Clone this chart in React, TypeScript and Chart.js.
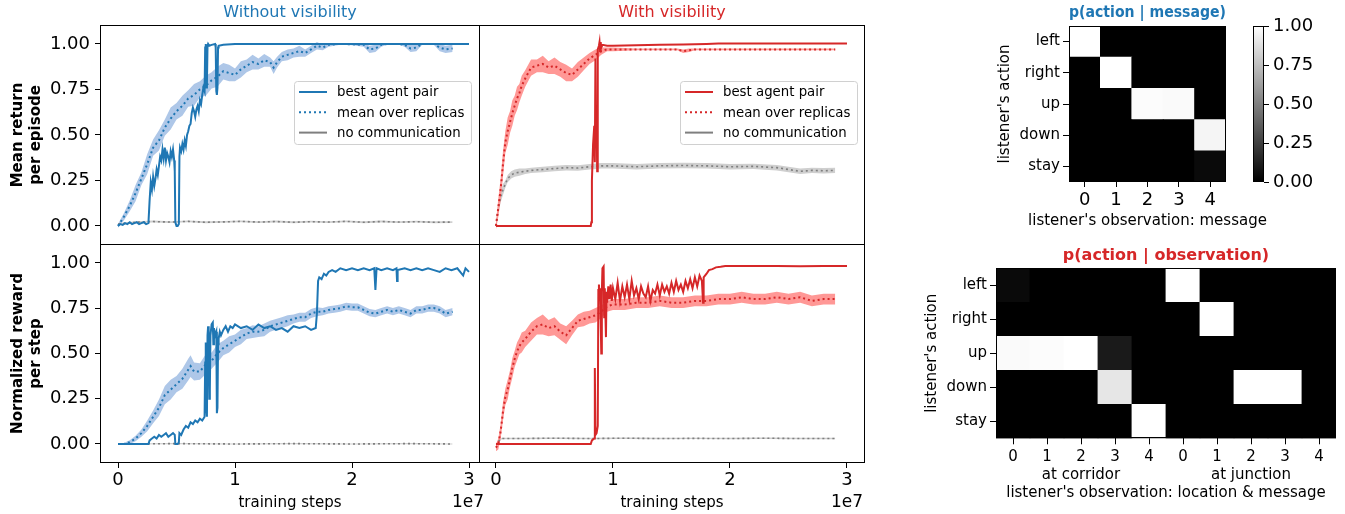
import React, { useEffect, useRef } from "react";
import { Chart, registerables } from "chart.js";

Chart.register(...registerables);
Chart.defaults.font.family = "'DejaVu Sans', sans-serif";
Chart.defaults.color = "#000";

// ---------------- text ----------------
const legendLabels = ["best agent pair", "mean over replicas", "no communication"];
const panelTitles = ["Without visibility", "With visibility"];
const yTitlesLine = [["Mean return", "per episode"], ["Normalized reward", "per step"]];
const xTitleLine = "training steps";
const xTickValues = [0, 1, 2, 3];
const yTickValues = [0, 0.25, 0.5, 0.75, 1.0];
const offsetText = "1e7";

// ---------------- line data (x in units of 1e7 steps) ----------------
// best agent pair: [step, value]
const tlBest = [
  [0, 0], [0.02, 0.01], [0.04, 0.005], [0.06, 0.015], [0.08, 0.01], [0.1, 0.02], [0.12, 0.01], [0.14, 0.015],
  [0.16, 0.02], [0.18, 0.01], [0.2, 0.015], [0.22, 0.02], [0.24, 0.01], [0.26, 0.015],
  [0.27, 0.14], [0.28, 0.24], [0.29, 0.2], [0.3, 0.27], [0.31, 0.22], [0.32, 0.26], [0.33, 0.31], [0.34, 0.28],
  [0.35, 0.33], [0.36, 0.38], [0.37, 0.36], [0.38, 0.42], [0.39, 0.37], [0.4, 0.43], [0.41, 0.36], [0.42, 0.4],
  [0.43, 0.38], [0.44, 0.35], [0.45, 0.41], [0.46, 0.38], [0.47, 0.42], [0.48, 0.36],
  [0.485, 0.3], [0.49, 0.02], [0.5, 0.0], [0.51, 0.0], [0.52, 0.01], [0.525, 0.38],
  [0.53, 0.43], [0.54, 0.41], [0.55, 0.45], [0.56, 0.42], [0.57, 0.47], [0.58, 0.44], [0.59, 0.5], [0.6, 0.52],
  [0.61, 0.55], [0.62, 0.56], [0.63, 0.62], [0.64, 0.65], [0.65, 0.63], [0.66, 0.6], [0.67, 0.64], [0.68, 0.66],
  [0.69, 0.63], [0.7, 0.69], [0.71, 0.67], [0.72, 0.72], [0.73, 0.76], [0.74, 0.74],
  [0.745, 0.98], [0.75, 1.0], [0.755, 0.76], [0.76, 0.78], [0.765, 0.99], [0.77, 1.0], [0.78, 0.99], [0.8, 0.995],
  [0.83, 1.0], [0.835, 0.98], [0.84, 0.74], [0.845, 0.72], [0.85, 0.76], [0.855, 0.98], [0.86, 0.99], [0.9, 0.995],
  [1.0, 1.0], [1.2, 1.0], [1.4, 0.999], [1.6, 1.0], [1.8, 1.0], [2.0, 1.0], [2.2, 0.999], [2.4, 1.0], [2.6, 1.0],
  [2.8, 1.0], [3.0, 1.0],
];
// mean over replicas: [step, mean, half-width of band]
const tlMean = [
  [0, 0, 0.01], [0.05, 0.05, 0.02], [0.1, 0.11, 0.03], [0.15, 0.18, 0.045], [0.2, 0.26, 0.035], [0.25, 0.34, 0.055],
  [0.3, 0.43, 0.045], [0.35, 0.47, 0.055], [0.4, 0.54, 0.045], [0.45, 0.59, 0.06], [0.5, 0.63, 0.045], [0.55, 0.66, 0.055],
  [0.6, 0.7, 0.045], [0.65, 0.72, 0.06], [0.7, 0.75, 0.045], [0.75, 0.77, 0.055], [0.8, 0.8, 0.045], [0.85, 0.82, 0.055],
  [0.9, 0.85, 0.045], [0.95, 0.84, 0.045], [1.0, 0.83, 0.035], [1.05, 0.86, 0.045], [1.1, 0.88, 0.035], [1.15, 0.9, 0.04],
  [1.2, 0.89, 0.03], [1.25, 0.91, 0.035], [1.3, 0.9, 0.025], [1.33, 0.87, 0.035], [1.36, 0.9, 0.03], [1.4, 0.93, 0.025],
  [1.45, 0.94, 0.03], [1.5, 0.95, 0.025], [1.55, 0.96, 0.03], [1.6, 0.95, 0.02], [1.65, 0.97, 0.02], [1.7, 0.99, 0.02],
  [1.75, 0.98, 0.015], [1.8, 0.995, 0.01], [1.9, 1.0, 0.005], [2.0, 0.998, 0.005], [2.1, 0.995, 0.01],
  [2.15, 0.97, 0.02], [2.2, 0.975, 0.02], [2.25, 0.995, 0.01], [2.3, 1.0, 0.005], [2.4, 1.0, 0.005],
  [2.45, 0.995, 0.01], [2.5, 0.975, 0.02], [2.55, 0.98, 0.02], [2.6, 1.0, 0.005], [2.7, 1.0, 0.005],
  [2.75, 0.98, 0.02], [2.8, 0.97, 0.02], [2.86, 0.975, 0.02],
];
const tlNoComm = [
  [0, 0.01, 0.005], [0.15, 0.02, 0.005], [0.3, 0.024, 0.005], [0.45, 0.021, 0.005], [0.6, 0.025, 0.005],
  [0.75, 0.02, 0.005], [0.9, 0.022, 0.005], [1.05, 0.025, 0.005], [1.2, 0.021, 0.005], [1.35, 0.024, 0.005],
  [1.5, 0.02, 0.005], [1.65, 0.023, 0.005], [1.8, 0.021, 0.005], [1.95, 0.025, 0.005], [2.1, 0.02, 0.005],
  [2.25, 0.024, 0.005], [2.4, 0.021, 0.005], [2.55, 0.023, 0.005], [2.7, 0.02, 0.005], [2.86, 0.021, 0.005],
];

const trBest = [
  [0, 0], [0.2, 0], [0.4, 0], [0.6, 0], [0.81, 0], [0.815, 0.02], [0.82, 0.25], [0.83, 0.45], [0.84, 0.55],
  [0.845, 0.35], [0.85, 0.92], [0.855, 0.45], [0.86, 0.6], [0.865, 0.3], [0.87, 0.97], [0.88, 0.99], [0.885, 1.01],
  [0.89, 0.96], [0.895, 1.01], [0.9, 0.98], [0.91, 0.995], [0.95, 0.99], [1.0, 0.99], [1.2, 0.993], [1.4, 0.995],
  [1.6, 0.997], [1.7, 0.998], [1.8, 1.0], [1.9, 1.003], [2.2, 1.003], [2.6, 1.003], [3.0, 1.003],
];
const trMean = [
  [0, 0, 0.02], [0.02, 0.1, 0.05], [0.04, 0.2, 0.06], [0.06, 0.34, 0.07], [0.08, 0.46, 0.06], [0.1, 0.52, 0.075],
  [0.12, 0.57, 0.06], [0.14, 0.62, 0.07], [0.16, 0.66, 0.055], [0.18, 0.7, 0.065], [0.2, 0.73, 0.05],
  [0.22, 0.77, 0.055], [0.25, 0.81, 0.045], [0.3, 0.87, 0.045], [0.35, 0.88, 0.035], [0.4, 0.89, 0.045],
  [0.45, 0.87, 0.035], [0.5, 0.88, 0.045], [0.55, 0.86, 0.04], [0.6, 0.84, 0.045], [0.65, 0.83, 0.035],
  [0.7, 0.86, 0.04], [0.75, 0.89, 0.035], [0.8, 0.92, 0.03], [0.85, 0.94, 0.03], [0.9, 0.96, 0.02],
  [0.95, 0.97, 0.01], [1.0, 0.97, 0.01], [1.2, 0.97, 0.005], [1.4, 0.97, 0.005], [1.55, 0.97, 0.005],
  [1.6, 0.96, 0.01], [1.65, 0.965, 0.01], [1.7, 0.97, 0.005], [2.0, 0.97, 0.005], [2.5, 0.97, 0.005],
  [2.9, 0.97, 0.005],
];
const trNoComm = [
  [0, 0, 0.01], [0.02, 0.1, 0.03], [0.04, 0.16, 0.03], [0.06, 0.2, 0.03], [0.08, 0.23, 0.02], [0.1, 0.26, 0.02],
  [0.13, 0.28, 0.02], [0.16, 0.29, 0.02], [0.2, 0.295, 0.02], [0.25, 0.3, 0.015], [0.3, 0.305, 0.015],
  [0.4, 0.31, 0.015], [0.5, 0.315, 0.015], [0.6, 0.32, 0.015], [0.7, 0.318, 0.015], [0.8, 0.325, 0.015],
  [0.9, 0.33, 0.015], [1.0, 0.33, 0.015], [1.2, 0.325, 0.015], [1.4, 0.33, 0.015], [1.6, 0.332, 0.015],
  [1.8, 0.33, 0.015], [2.0, 0.325, 0.015], [2.2, 0.327, 0.015], [2.4, 0.32, 0.015], [2.5, 0.31, 0.015],
  [2.6, 0.3, 0.015], [2.7, 0.305, 0.015], [2.8, 0.303, 0.015], [2.9, 0.305, 0.015],
];

const blBest = [
  [0, 0], [0.1, 0], [0.2, 0], [0.26, 0.0], [0.27, 0.02], [0.29, 0.03], [0.31, 0.04], [0.33, 0.03], [0.35, 0.05],
  [0.37, 0.04], [0.39, 0.05], [0.41, 0.06], [0.43, 0.04], [0.45, 0.05], [0.47, 0.06], [0.485, 0.05], [0.49, 0.0],
  [0.51, 0.0], [0.52, 0.01], [0.525, 0.06], [0.54, 0.05], [0.56, 0.08], [0.58, 0.1], [0.6, 0.09], [0.62, 0.12],
  [0.64, 0.11], [0.66, 0.13], [0.68, 0.12], [0.7, 0.14], [0.72, 0.13], [0.74, 0.15], [0.745, 0.45], [0.75, 0.56],
  [0.755, 0.2], [0.76, 0.15], [0.765, 0.6], [0.77, 0.65], [0.775, 0.62], [0.78, 0.25], [0.785, 0.3], [0.79, 0.6],
  [0.8, 0.66], [0.81, 0.67], [0.815, 0.55], [0.82, 0.64], [0.83, 0.6], [0.84, 0.62], [0.845, 0.17], [0.85, 0.2],
  [0.855, 0.55], [0.86, 0.58], [0.87, 0.62], [0.88, 0.6], [0.9, 0.63], [0.92, 0.65], [0.94, 0.62], [0.96, 0.65],
  [0.98, 0.64], [1.0, 0.66], [1.05, 0.64], [1.1, 0.65], [1.15, 0.63], [1.2, 0.66], [1.25, 0.64], [1.3, 0.65],
  [1.35, 0.63], [1.4, 0.64], [1.45, 0.62], [1.5, 0.65], [1.55, 0.64], [1.6, 0.65], [1.65, 0.63], [1.69, 0.64],
  [1.7, 0.72], [1.71, 0.9], [1.72, 0.92], [1.74, 0.91], [1.76, 0.94], [1.78, 0.93], [1.8, 0.95], [1.83, 0.96],
  [1.86, 0.95], [1.9, 0.97], [1.95, 0.96], [2.0, 0.97], [2.05, 0.96], [2.1, 0.97], [2.15, 0.96], [2.19, 0.97],
  [2.2, 0.85], [2.21, 0.97], [2.25, 0.96], [2.3, 0.97], [2.35, 0.96], [2.38, 0.97], [2.385, 0.9], [2.39, 0.96],
  [2.45, 0.97], [2.5, 0.96], [2.55, 0.97], [2.6, 0.96], [2.65, 0.97], [2.7, 0.96], [2.75, 0.95], [2.8, 0.97],
  [2.85, 0.96], [2.9, 0.97], [2.95, 0.93], [2.97, 0.97], [3.0, 0.95],
];
const blMean = [
  [0, 0, 0.005], [0.05, 0, 0.005], [0.1, 0.01, 0.01], [0.15, 0.03, 0.015], [0.2, 0.06, 0.02], [0.25, 0.1, 0.03],
  [0.3, 0.15, 0.035], [0.35, 0.2, 0.045], [0.4, 0.27, 0.05], [0.45, 0.3, 0.055], [0.5, 0.33, 0.045], [0.55, 0.36, 0.055],
  [0.6, 0.41, 0.06], [0.62, 0.43, 0.06], [0.65, 0.4, 0.05], [0.7, 0.4, 0.045], [0.75, 0.44, 0.055], [0.8, 0.46, 0.045],
  [0.85, 0.5, 0.05], [0.9, 0.53, 0.04], [0.95, 0.55, 0.045], [1.0, 0.57, 0.035], [1.05, 0.59, 0.04], [1.1, 0.61, 0.03],
  [1.15, 0.62, 0.035], [1.2, 0.62, 0.03], [1.25, 0.63, 0.035], [1.3, 0.65, 0.03], [1.35, 0.66, 0.03], [1.4, 0.67, 0.03],
  [1.45, 0.68, 0.03], [1.5, 0.69, 0.025], [1.55, 0.7, 0.025], [1.6, 0.7, 0.025], [1.65, 0.72, 0.025],
  [1.7, 0.73, 0.025], [1.75, 0.73, 0.02], [1.8, 0.74, 0.02], [1.85, 0.745, 0.02], [1.9, 0.75, 0.02],
  [1.95, 0.76, 0.02], [2.0, 0.755, 0.02], [2.05, 0.755, 0.02], [2.1, 0.74, 0.02], [2.15, 0.725, 0.02],
  [2.2, 0.72, 0.02], [2.25, 0.73, 0.02], [2.3, 0.74, 0.02], [2.35, 0.73, 0.02], [2.4, 0.74, 0.02],
  [2.45, 0.73, 0.02], [2.5, 0.72, 0.02], [2.55, 0.74, 0.02], [2.6, 0.74, 0.02], [2.65, 0.75, 0.02],
  [2.7, 0.75, 0.02], [2.75, 0.74, 0.02], [2.8, 0.72, 0.02], [2.86, 0.73, 0.02],
];
const blNoComm = [
  [0, 0, 0.003], [0.5, 0.002, 0.003], [1.0, 0, 0.003], [1.5, 0.002, 0.003], [2.0, 0, 0.003], [2.5, 0.002, 0.003],
  [2.86, 0, 0.003],
];

const brBest = [
  [0, 0], [0.3, 0], [0.6, 0], [0.81, 0], [0.82, 0.02], [0.84, 0.03], [0.845, 0.42], [0.85, 0.05], [0.86, 0.06],
  [0.87, 0.1], [0.875, 0.85], [0.88, 0.88], [0.885, 0.82], [0.89, 0.86], [0.9, 0.5], [0.905, 0.84], [0.91, 0.97],
  [0.92, 0.98], [0.925, 0.7], [0.93, 0.86], [0.94, 0.59], [0.945, 0.84], [0.95, 0.78], [0.96, 0.87], [0.97, 0.8],
  [0.98, 0.88], [0.99, 0.79], [1.0, 0.86], [1.02, 0.8], [1.04, 0.89], [1.06, 0.79], [1.08, 0.87], [1.1, 0.81],
  [1.12, 0.88], [1.14, 0.8], [1.16, 0.9], [1.18, 0.82], [1.2, 0.86], [1.22, 0.8], [1.24, 0.87], [1.26, 0.83],
  [1.28, 0.81], [1.3, 0.87], [1.32, 0.79], [1.34, 0.85], [1.36, 0.83], [1.38, 0.88], [1.4, 0.82], [1.42, 0.88],
  [1.44, 0.84], [1.46, 0.87], [1.48, 0.83], [1.5, 0.89], [1.52, 0.84], [1.54, 0.9], [1.56, 0.85], [1.58, 0.88],
  [1.6, 0.84], [1.62, 0.9], [1.64, 0.86], [1.66, 0.91], [1.68, 0.86], [1.7, 0.92], [1.72, 0.87], [1.74, 0.93],
  [1.76, 0.9], [1.77, 0.78], [1.775, 0.92], [1.8, 0.94], [1.82, 0.96], [1.85, 0.965], [1.88, 0.975], [1.92, 0.978],
  [1.96, 0.982], [2.0, 0.983], [2.2, 0.982], [2.4, 0.983], [2.6, 0.981], [2.8, 0.983], [3.0, 0.982],
];
const brMean = [
  [0, -0.02, 0.02], [0.02, 0.0, 0.03], [0.04, 0.07, 0.04], [0.06, 0.18, 0.05], [0.08, 0.26, 0.045], [0.1, 0.3, 0.055],
  [0.12, 0.36, 0.045], [0.14, 0.42, 0.055], [0.16, 0.47, 0.045], [0.18, 0.51, 0.05], [0.2, 0.54, 0.045],
  [0.22, 0.56, 0.055], [0.25, 0.58, 0.045], [0.3, 0.62, 0.05], [0.35, 0.65, 0.045], [0.4, 0.66, 0.055],
  [0.45, 0.64, 0.045], [0.5, 0.65, 0.05], [0.55, 0.62, 0.045], [0.6, 0.6, 0.05], [0.65, 0.64, 0.04],
  [0.7, 0.68, 0.035], [0.75, 0.69, 0.04], [0.8, 0.7, 0.035], [0.85, 0.71, 0.04], [0.9, 0.73, 0.035],
  [0.95, 0.76, 0.03], [1.0, 0.77, 0.03], [1.1, 0.77, 0.03], [1.2, 0.78, 0.03], [1.3, 0.78, 0.03], [1.4, 0.79, 0.03],
  [1.5, 0.78, 0.03], [1.6, 0.78, 0.03], [1.7, 0.79, 0.03], [1.8, 0.79, 0.03], [1.9, 0.8, 0.03], [2.0, 0.8, 0.03],
  [2.1, 0.81, 0.03], [2.2, 0.8, 0.03], [2.3, 0.8, 0.03], [2.4, 0.81, 0.03], [2.5, 0.8, 0.03], [2.6, 0.81, 0.03],
  [2.7, 0.79, 0.03], [2.8, 0.8, 0.03], [2.9, 0.8, 0.03],
];
const brNoComm = [
  [0.02, 0.015, 0.005], [0.05, 0.03, 0.004], [0.2, 0.03, 0.004], [0.5, 0.032, 0.004], [0.8, 0.03, 0.004],
  [1.1, 0.032, 0.004], [1.4, 0.03, 0.004], [1.7, 0.031, 0.004], [2.0, 0.03, 0.004], [2.3, 0.032, 0.004],
  [2.6, 0.03, 0.004], [2.9, 0.03, 0.004],
];

// ---------------- heatmap data ----------------
const hmRows = ["left", "right", "up", "down", "stay"];
const hm1Cols = ["0", "1", "2", "3", "4"];
const hm1Values = [
  [1.0, 0, 0, 0, 0],
  [0, 1.0, 0, 0, 0],
  [0, 0, 0.99, 0.98, 0],
  [0, 0, 0, 0, 0.96],
  [0, 0, 0, 0, 0.04],
];
const hm2Messages = ["0", "1", "2", "3", "4"];
const hm2Locations = ["at corridor", "at junction"];
const hm2Values = [
  [0.04, 0, 0, 0, 0, 1.0, 0, 0, 0, 0],
  [0, 0, 0, 0, 0, 0, 1.0, 0, 0, 0],
  [0.98, 0.99, 1.0, 0.1, 0, 0, 0, 0, 0, 0],
  [0, 0, 0, 0.9, 0, 0, 0, 1.0, 1.0, 0],
  [0, 0, 0, 0, 1.0, 0, 0, 0, 0, 0],
];
const hmTitles = ["p(action | message)", "p(action | observation)"];
const hmYTitle = "listener's action";
const hmXTitles = ["listener's observation: message", "listener's observation: location & message"];
const colorbarTicks = [0, 0.25, 0.5, 0.75, 1.0];

// ---------------- helpers ----------------
const BLUE = "#1f77b4";
const BLUE_BAND = "#aec7e8";
const RED = "#d62728";
const RED_BAND = "#ff9896";
const GRAY = "#7f7f7f";
const GRAY_BAND = "#cfcfcf";
const Y_MIN = -0.105;
const Y_MAX = 1.104;

const noPad = (s: any) => {
  s.paddingTop = 0;
  s.paddingBottom = 0;
  s.paddingLeft = 0;
  s.paddingRight = 0;
};

const framePlugin = {
  id: "frame",
  afterDatasetsDraw(chart: any) {
    const { ctx, chartArea: a } = chart;
    ctx.save();
    ctx.strokeStyle = "#000";
    ctx.lineWidth = 1;
    ctx.setLineDash([]);
    const l = Math.round(a.left) + 0.5;
    const t = Math.round(a.top) + 0.5;
    const r = Math.round(a.right) - 0.5;
    const b = Math.round(a.bottom) - 0.5;
    ctx.strokeRect(l, t, r - l, b - t);
    ctx.restore();
  },
};

function legendPlugin(x: number, y: number, color: string) {
  return {
    id: "boxLegend",
    afterDraw(chart: any) {
      const ctx = chart.ctx;
      ctx.save();
      const w = 177, h = 63;
      ctx.fillStyle = "rgba(255,255,255,0.85)";
      ctx.strokeStyle = "#d0d0d0";
      ctx.lineWidth = 1;
      ctx.beginPath();
      if (ctx.roundRect) ctx.roundRect(x + 0.5, y + 0.5, w, h, 3);
      else ctx.rect(x + 0.5, y + 0.5, w, h);
      ctx.fill();
      ctx.stroke();
      const items = [
        { c: color, dash: [] as number[] },
        { c: color, dash: [2, 3] },
        { c: GRAY, dash: [] as number[] },
      ];
      ctx.font = "13.3px 'DejaVu Sans'";
      ctx.textBaseline = "middle";
      ctx.textAlign = "left";
      items.forEach((it, i) => {
        const yy = y + 11 + i * 20.3;
        ctx.beginPath();
        ctx.setLineDash(it.dash);
        ctx.strokeStyle = it.c;
        ctx.lineWidth = 2;
        ctx.moveTo(x + 5, yy);
        ctx.lineTo(x + 33, yy);
        ctx.stroke();
        ctx.setLineDash([]);
        ctx.fillStyle = "#000";
        ctx.fillText(legendLabels[i], x + 43, yy + 1);
      });
      ctx.restore();
    },
  };
}

function textPlugin(text: string, x: number | null, y: number, font: string, align: CanvasTextAlign) {
  return {
    id: "freeText",
    afterDraw(chart: any) {
      const ctx = chart.ctx;
      const a = chart.chartArea;
      ctx.save();
      ctx.font = font;
      ctx.fillStyle = "#000";
      ctx.textAlign = align;
      ctx.textBaseline = "middle";
      ctx.fillText(text, x === null ? (a.left + a.right) / 2 : x, y);
      ctx.restore();
    },
  };
}

const toPts = (arr: number[][]) => arr.map((r) => ({ x: r[0], y: r[1] }));
const toBand = (arr: number[][], sgn: number) => arr.map((r) => ({ x: r[0], y: r[1] + sgn * r[2] }));

type LineSpec = {
  best: number[][];
  mean: number[][];
  noComm: number[][];
  color: string;
  band: string;
  xMin: number;
  xMax: number;
  title?: string;
  yTitle?: string[];
  bottom: boolean;
  padRight: number;
  legendAt?: [number, number];
  offsetAt?: [number, number];
};

function makeLineChart(canvas: HTMLCanvasElement, p: LineSpec) {
  const thin = { pointRadius: 0, tension: 0 };
  const datasets: any[] = [
    { data: toPts(p.best), borderColor: p.color, borderWidth: 2, ...thin },
    { data: toBand(p.mean, 0), borderColor: p.color, borderWidth: 2, borderDash: [2, 3], ...thin },
    { data: toBand(p.noComm, 0), borderColor: GRAY, borderWidth: 1.6, borderDash: [2, 3], ...thin },
    { data: toBand(p.mean, -1), borderColor: "transparent", borderWidth: 1, fill: false, ...thin },
    { data: toBand(p.mean, 1), borderColor: "transparent", borderWidth: 1, fill: 3, backgroundColor: p.band, ...thin },
    { data: toBand(p.noComm, -1), borderColor: "transparent", borderWidth: 1, fill: false, ...thin },
    { data: toBand(p.noComm, 1), borderColor: "transparent", borderWidth: 1, fill: 5, backgroundColor: GRAY_BAND, ...thin },
  ];
  const y: any = p.yTitle
    ? {
        type: "linear",
        min: Y_MIN,
        max: Y_MAX,
        position: "left",
        afterFit: (s: any) => { s.width = 100; noPad(s); },
        afterBuildTicks: (s: any) => { s.ticks = yTickValues.map((v) => ({ value: v })); },
        ticks: { callback: (v: any) => Number(v).toFixed(2), font: { size: 18 }, padding: 5, color: "#000" },
        grid: { drawOnChartArea: false, tickLength: 5, color: "#000" },
        border: { display: false },
        title: { display: true, text: p.yTitle, color: "#000", font: { size: 15, weight: "bold" }, padding: { top: 9, bottom: 0 } },
      }
    : { type: "linear", min: Y_MIN, max: Y_MAX, display: false };
  const x: any = p.bottom
    ? {
        type: "linear",
        min: p.xMin,
        max: p.xMax,
        afterFit: (s: any) => { s.height = 51; noPad(s); },
        afterBuildTicks: (s: any) => { s.ticks = xTickValues.map((v) => ({ value: v })); },
        ticks: { callback: (v: any) => String(v), font: { size: 18 }, padding: 2, color: "#000", maxRotation: 0 },
        grid: { drawOnChartArea: false, tickLength: 5, color: "#000" },
        border: { display: false },
        title: { display: true, text: xTitleLine, color: "#000", font: { size: 15 }, padding: { top: 0, bottom: 2 } },
      }
    : { type: "linear", min: p.xMin, max: p.xMax, display: false };

  const plugins: any[] = [framePlugin];
  if (p.legendAt) plugins.push(legendPlugin(p.legendAt[0], p.legendAt[1], p.color));
  if (p.offsetAt) plugins.push(textPlugin(offsetText, p.offsetAt[0], p.offsetAt[1], "17px 'DejaVu Sans'", "right"));

  return new Chart(canvas, {
    type: "line",
    data: { datasets },
    options: {
      animation: false,
      responsive: false,
      maintainAspectRatio: false,
      layout: { padding: { left: 0, right: p.padRight, top: 0, bottom: 0 } },
      plugins: {
        legend: { display: false },
        tooltip: { enabled: false },
        title: p.title
          ? {
              display: true,
              text: p.title,
              color: p.color,
              fullSize: false,
              font: { size: 16, weight: "normal" },
              padding: { top: 3, bottom: 2.8 },
            }
          : { display: false },
      },
      scales: { x, y },
    } as any,
    plugins,
  });
}

const gray = (v: number) => {
  const c = Math.round(v * 255);
  return `rgb(${c},${c},${c})`;
};

type HeatSpec = {
  labels: any[];
  values: number[][];
  title: string;
  titleColor: string;
  titlePad: { top: number; bottom: number };
  xTitle: string;
  xTitleFree: boolean;
  xFont: number;
  xHeight: number;
  xTickLen: number;
  xTickPad: number;
  xTitlePadBottom: number;
  yWidth: number;
  yTitlePad: number;
  padRight: number;
  canvasHeight: number;
};

const blackBgPlugin = {
  id: "blackBg",
  beforeDatasetsDraw(chart: any) {
    const { ctx, chartArea: a } = chart;
    ctx.save();
    ctx.fillStyle = "#000";
    ctx.fillRect(a.left, a.top, a.right - a.left, a.bottom - a.top);
    ctx.restore();
  },
};

function makeHeatmap(canvas: HTMLCanvasElement, h: HeatSpec) {
  const n = hmRows.length;
  const datasets: any[] = [];
  for (let i = 0; i < n; i++) {
    const row = h.values[n - 1 - i];
    datasets.push({
      label: hmRows[n - 1 - i],
      data: row.map(() => 1),
      backgroundColor: row.map(gray),
      borderWidth: 0,
      barPercentage: 1,
      categoryPercentage: 1,
      inflateAmount: 0.4,
    });
  }
  const plugins: any[] = [blackBgPlugin, framePlugin];
  if (h.xTitleFree) {
    plugins.push(textPlugin(h.xTitle, null, h.canvasHeight - h.xTitlePadBottom - 9, "15px 'DejaVu Sans'", "center"));
  }
  return new Chart(canvas, {
    type: "bar",
    data: { labels: h.labels, datasets },
    options: {
      animation: false,
      responsive: false,
      maintainAspectRatio: false,
      layout: { padding: { left: 0, right: h.padRight, top: 0, bottom: 0 } },
      plugins: {
        legend: { display: false },
        tooltip: { enabled: false },
        title: {
          display: true,
          text: h.title,
          color: h.titleColor,
          fullSize: false,
          font: { size: 16, weight: "bold" },
          padding: h.titlePad,
        },
      },
      scales: {
        x: {
          type: "category",
          stacked: true,
          offset: true,
          afterFit: (s: any) => { s.height = h.xHeight; noPad(s); },
          grid: { offset: false, drawOnChartArea: false, tickLength: h.xTickLen, color: "#000" },
          border: { display: false },
          ticks: { font: { size: h.xFont }, padding: h.xTickPad, color: "#000", maxRotation: 0, autoSkip: false },
          title: {
            display: !h.xTitleFree,
            text: h.xTitle,
            color: "#000",
            font: { size: 15 },
            padding: { top: 0, bottom: h.xTitlePadBottom },
          },
        },
        y: {
          type: "linear",
          stacked: true,
          min: 0,
          max: n,
          afterFit: (s: any) => { s.width = h.yWidth; noPad(s); },
          afterBuildTicks: (s: any) => { s.ticks = hmRows.map((_, i) => ({ value: i + 0.5 })); },
          ticks: { callback: (v: any) => hmRows[n - 1 - Math.floor(Number(v))], font: { size: 15 }, padding: 3, color: "#000" },
          grid: { drawOnChartArea: false, tickLength: 6, color: "#000" },
          border: { display: false },
          title: { display: true, text: hmYTitle, color: "#000", font: { size: 15 }, padding: { top: h.yTitlePad, bottom: 0 } },
        },
      },
    } as any,
    plugins,
  });
}

function makeColorbar(canvas: HTMLCanvasElement) {
  return new Chart(canvas, {
    type: "bar",
    data: {
      labels: [""],
      datasets: [
        {
          data: [colorbarTicks[colorbarTicks.length - 1]],
          borderWidth: 0,
          barPercentage: 1,
          categoryPercentage: 1,
          backgroundColor: (c: any) => {
            const a = c.chart.chartArea;
            if (!a) return "#000";
            const g = c.chart.ctx.createLinearGradient(0, a.bottom, 0, a.top);
            g.addColorStop(0, "#000");
            g.addColorStop(1, "#fff");
            return g;
          },
        },
      ],
    },
    options: {
      animation: false,
      responsive: false,
      maintainAspectRatio: false,
      layout: { padding: { left: 3, right: 0, top: 26, bottom: 53 } },
      plugins: { legend: { display: false }, tooltip: { enabled: false } },
      scales: {
        x: { type: "category", display: false, offset: true },
        y: {
          type: "linear",
          position: "right",
          min: 0,
          max: 1,
          afterFit: (s: any) => { s.width = 81; noPad(s); },
          afterBuildTicks: (s: any) => { s.ticks = colorbarTicks.map((v) => ({ value: v })); },
          ticks: { callback: (v: any) => Number(v).toFixed(2), font: { size: 18 }, padding: 4, color: "#000" },
          grid: { drawOnChartArea: false, tickLength: 5, color: "#000" },
          border: { display: false },
        },
      },
    } as any,
    plugins: [framePlugin],
  });
}

function ChartBox(props: { left: number; top: number; width: number; height: number; build: (c: HTMLCanvasElement) => Chart }) {
  const ref = useRef<HTMLCanvasElement>(null);
  useEffect(() => {
    const ch = props.build(ref.current as HTMLCanvasElement);
    return () => ch.destroy();
  }, []);
  return (
    <canvas
      ref={ref}
      width={props.width}
      height={props.height}
      style={{ position: "absolute", left: props.left, top: props.top, width: props.width, height: props.height }}
    />
  );
}

const hm2Labels = [0, 1].flatMap((g) =>
  hm2Messages.map((m, i) => (i === 2 ? [m, hm2Locations[g]] : m))
);

export default function App() {
  return (
    <div style={{ position: "absolute", left: 0, top: 0, width: 1345, height: 514, background: "#fff", overflow: "hidden" }}>
      <ChartBox
        left={0} top={0} width={480} height={245}
        build={(c) => makeLineChart(c, {
          best: tlBest, mean: tlMean, noComm: tlNoComm, color: BLUE, band: BLUE_BAND,
          xMin: -0.154, xMax: 3.094, title: panelTitles[0], yTitle: yTitlesLine[0], bottom: false, padRight: 0,
          legendAt: [294, 81],
        })}
      />
      <ChartBox
        left={479} top={0} width={386} height={245}
        build={(c) => makeLineChart(c, {
          best: trBest, mean: trMean, noComm: trNoComm, color: RED, band: RED_BAND,
          xMin: -0.145, xMax: 3.154, title: panelTitles[1], bottom: false, padRight: 0,
          legendAt: [201, 81],
        })}
      />
      <ChartBox
        left={0} top={244} width={490} height={270}
        build={(c) => makeLineChart(c, {
          best: blBest, mean: blMean, noComm: blNoComm, color: BLUE, band: BLUE_BAND,
          xMin: -0.154, xMax: 3.094, yTitle: yTitlesLine[1], bottom: true, padRight: 10,
          offsetAt: [484, 259],
        })}
      />
      <ChartBox
        left={479} top={244} width={386} height={270}
        build={(c) => makeLineChart(c, {
          best: brBest, mean: brMean, noComm: brNoComm, color: RED, band: RED_BAND,
          xMin: -0.145, xMax: 3.154, bottom: true, padRight: 0,
          offsetAt: [384, 259],
        })}
      />
      <ChartBox
        left={990} top={0} width={300} height={235}
        build={(c) => makeHeatmap(c, {
          labels: hm1Cols, values: hm1Values, title: hmTitles[0], titleColor: BLUE,
          titlePad: { top: 3, bottom: 3.8 }, xTitle: hmXTitles[0], xTitleFree: true, xFont: 18, xHeight: 53,
          xTickLen: 5, xTickPad: 3, xTitlePadBottom: 5, yWidth: 79, yTitlePad: 6, padRight: 64, canvasHeight: 235,
        })}
      />
      <ChartBox left={1250} top={0} width={95} height={235} build={(c) => makeColorbar(c)} />
      <ChartBox
        left={900} top={235} width={445} height={279}
        build={(c) => makeHeatmap(c, {
          labels: hm2Labels, values: hm2Values, title: hmTitles[1], titleColor: RED,
          titlePad: { top: 11, bottom: 3.1 }, xTitle: hmXTitles[1], xTitleFree: false, xFont: 15, xHeight: 75.7,
          xTickLen: 6, xTickPad: 4, xTitlePadBottom: 12, yWidth: 96, yTitlePad: 22.7, padRight: 9, canvasHeight: 279,
        })}
      />
    </div>
  );
}
